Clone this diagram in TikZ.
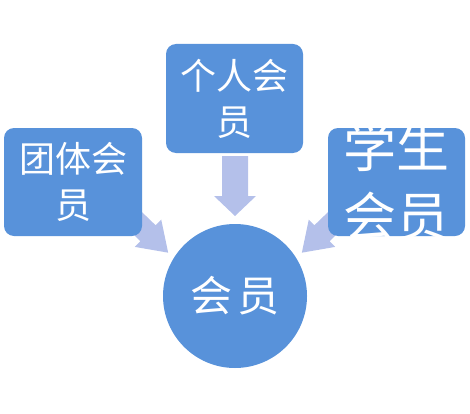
\documentclass[tikz,border=0pt]{standalone}
\usepackage{fontspec}
\newfontfamily\cjk{Noto Sans CJK SC}
\definecolor{boxblue}{HTML}{5892DA}
\definecolor{arrowlav}{HTML}{B4C0EA}
\tikzset{
  boxnode/.style={fill=boxblue, rounded corners=10pt, inner sep=0pt, minimum width=137pt, minimum height=109pt},
  circnode/.style={circle, fill=boxblue, inner sep=0pt, minimum size=144pt},
  labeltext/.style={text=white, align=center, inner sep=0pt, font=\cjk},
  downarrow/.pic={\fill[arrowlav] (-13,0)--(-13,-40)--(-21,-40)--(0,-60)--(21,-40)--(13,-40)--(13,0)--cycle;},
  diagarrow/.pic={\fill[arrowlav] (0,-11)--(32,-11)--(32,-19)--(60,0)--(32,19)--(32,11)--(0,11)--cycle;}
}
\begin{document}
\begin{tikzpicture}[x=1pt,y=1pt]
\useasboundingbox (0,0) rectangle (470,413);
% anchor coordinates for arrows
\coordinate (downtail) at (235,257);
\coordinate (lefttail) at (125,202);
\coordinate (righttail) at (345,202);
\pic at (downtail) {downarrow};
\pic[rotate=-44] at (lefttail) {diagarrow};
\pic[rotate=-136] at (righttail) {diagarrow};
% boxes
\node[boxnode] (top) at (234.5,314.5) {};
\node[boxnode, minimum width=138pt, minimum height=108pt] (left) at (73,231) {};
\node[boxnode, minimum height=108pt] (right) at (396.5,231) {};
\node[circnode] (center) at (235,117) {};
% texts
\node[labeltext, font=\cjk\fontsize{36}{46}\selectfont] (toptext) at (top.center) {个人会\\员};
\node[labeltext, font=\cjk\fontsize{36}{46}\selectfont] (lefttext) at (left.center) {团体会\\员};
\node[labeltext, font=\cjk\fontsize{53}{69}\selectfont] (righttext) at (right.center) {学生\\会员};
\node[labeltext, font=\cjk\fontsize{42}{50}\selectfont] (centertext) at (center.center) {会\hspace{6pt}员};
\end{tikzpicture}
\end{document}
